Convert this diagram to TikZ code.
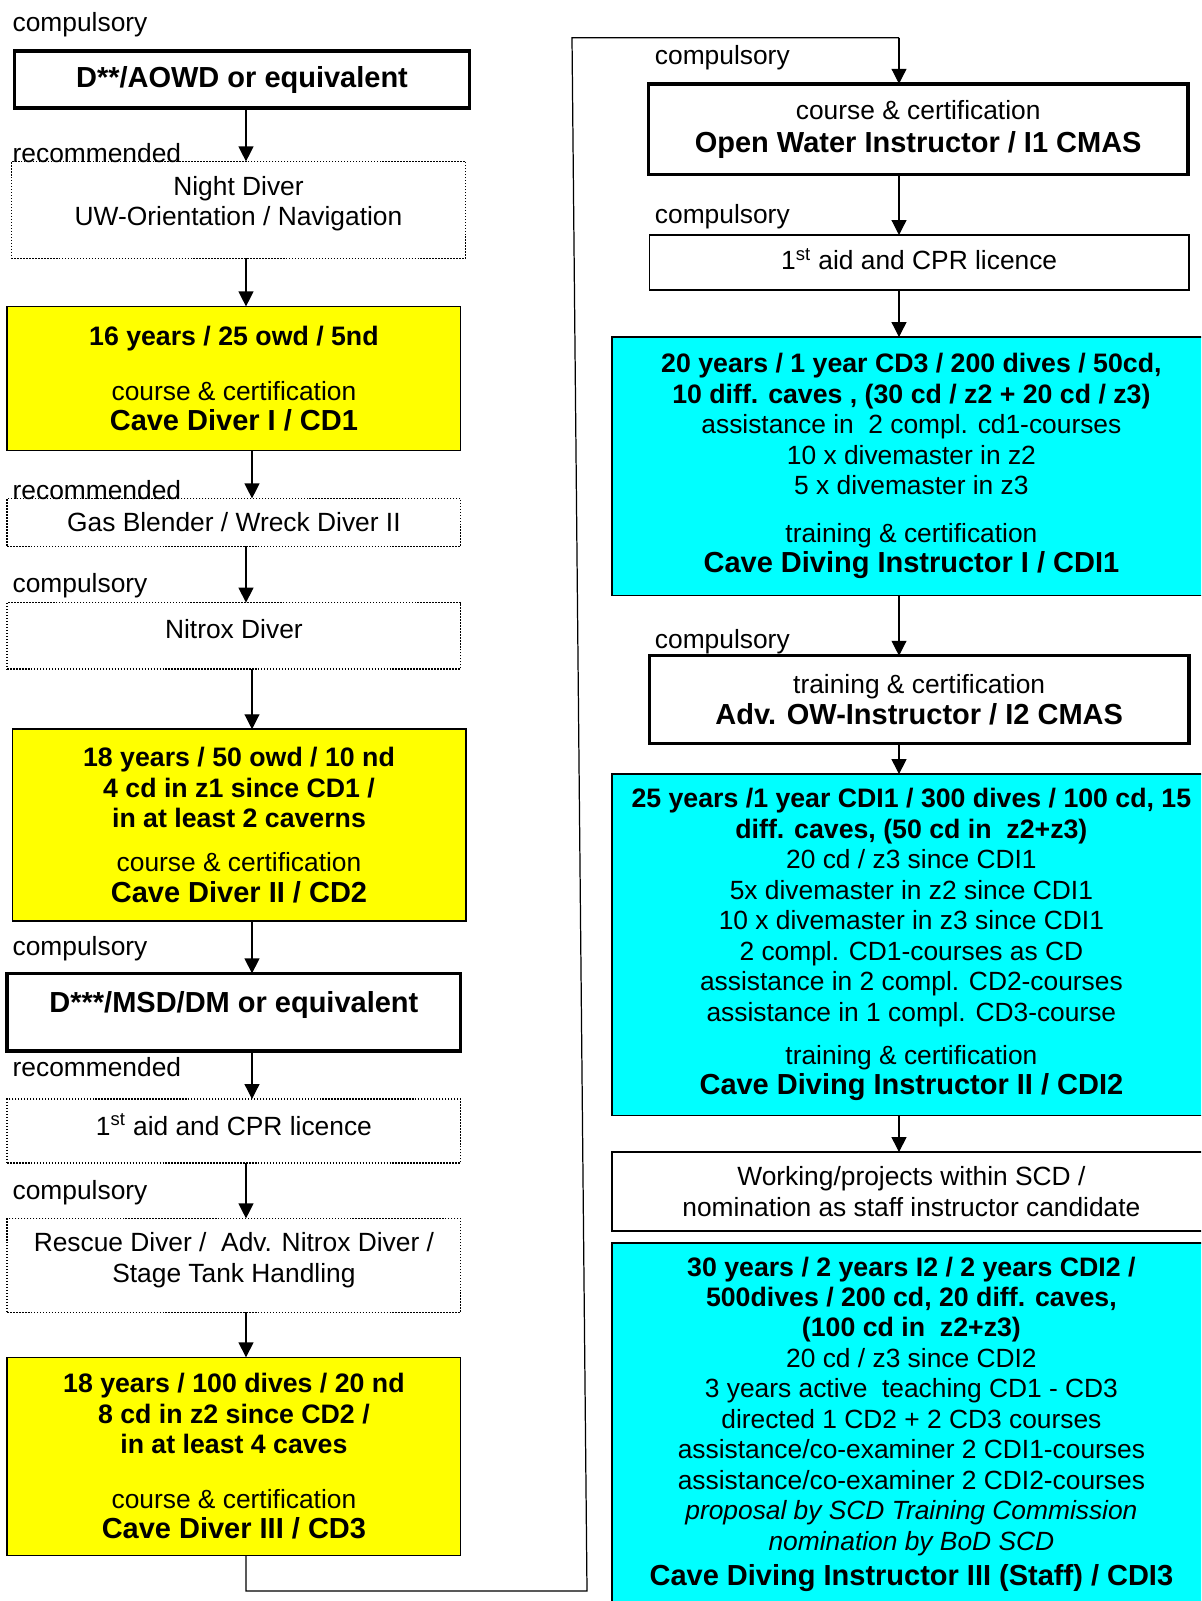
\documentclass[tikz,border=0pt]{standalone}
\usepackage{fontspec}
\setmainfont{Liberation Sans}
\usetikzlibrary{arrows.meta}
\definecolor{cdyellow}{RGB}{255,255,0}
\definecolor{cdcyan}{RGB}{0,255,255}
\newcommand{\hd}[1]{{\fontsize{16.5}{17.35}\selectfont\bfseries #1}}
\newcommand{\reqb}[1]{{\fontsize{15.2}{17.35}\selectfont\bfseries #1}}
\tikzset{
    %Define standard arrow tip
    >={Triangle[length=8.5pt,width=8.5pt]},
    %Define style for boxes
    basebox/.style={
           rectangle,
           inner sep=0pt, outer sep=0pt,
           align=center,
           font=\fontsize{15}{17.35}\selectfont},
    thickrect/.style={
           basebox,
           draw=black, line width=2pt},
    plainrect/.style={
           basebox,
           draw=black, line width=0.9pt},
    dottedrect/.style={
           basebox,
           draw=black, line width=0.8pt,
           dash pattern=on 0.8pt off 0.9pt},
    yellowrect/.style={
           basebox,
           draw=black, line width=0.9pt,
           fill=cdyellow},
    cyanrect/.style={
           basebox,
           draw=black, line width=0.9pt,
           fill=cdcyan},
    lbl/.style={
           anchor=west, inner sep=0pt,
           font=\fontsize{15}{17.35}\selectfont,
           text height=10.8pt, text depth=3pt},
    % Define arrow style
    pil/.style={
           ->,
           line width=0.7pt}
}
\begin{document}
\begin{tikzpicture}[x=0.02cm,y=-0.02cm]
\useasboundingbox (0,0) rectangle (1201,1601);
\fill[white] (0,0) rectangle (1201,1601);
\clip (0,0) rectangle (1201,1601);

% left column
\node[thickrect, minimum width=9.11cm, minimum height=1.146cm] (aowd) at (242,79.6) {\hd{D**/AOWD or equivalent}};
\node[dottedrect, minimum width=9.09cm, minimum height=1.94cm, text depth=10pt] (night) at (238.5,209.9) {Night Diver\\UW-Orientation / Navigation};
\node[yellowrect, minimum width=9.07cm, minimum height=2.88cm] (cdone) at (233.9,378.4) {\reqb{16 years / 25 owd / 5nd}\\[14pt]course \& certification\\\hd{Cave Diver I / CD1}};
\node[dottedrect, minimum width=9.07cm, minimum height=0.96cm] (blender) at (233.9,522.4) {Gas Blender / Wreck Diver II};
\node[dottedrect, minimum width=9.07cm, minimum height=1.328cm, text depth=8pt] (nitrox) at (233.9,635.8) {Nitrox Diver};
\node[yellowrect, minimum width=9.07cm, minimum height=3.84cm] (cdtwo) at (239,825.2) {\reqb{18 years / 50 owd / 10 nd}\\\reqb{4 cd in z1 since CD1 /}\\\reqb{in at least 2 caverns}\\[7.6pt]course \& certification\\\hd{Cave Diver II / CD2}};
\node[thickrect, minimum width=9.07cm, minimum height=1.554cm, text depth=12pt] (msd) at (233.9,1012.2) {\hd{D***/MSD/DM or equivalent}};
\node[dottedrect, minimum width=9.07cm, minimum height=1.28cm, text depth=7.4pt] (aidleft) at (233.9,1131) {1\textsuperscript{st} aid and CPR licence};
\node[dottedrect, minimum width=9.07cm, minimum height=1.88cm, text depth=9pt] (rescue) at (233.9,1265.4) {Rescue Diver /\ \ Adv. Nitrox Diver /\\Stage Tank Handling};
\node[yellowrect, minimum width=9.07cm, minimum height=3.96cm] (cdthree) at (233.9,1456.3) {\reqb{18 years / 100 dives / 20 nd}\\\reqb{8 cd in z2 since CD2 /}\\\reqb{in at least 4 caves}\\[13.8pt]course \& certification\\\hd{Cave Diver III / CD3}};

\node[lbl] (lcomp1) at (12.3,25) {compulsory};
\node[lbl] (lrec1) at (12.3,156) {recommended};
\node[lbl] (lrec2) at (12.3,493) {recommended};
\node[lbl] (lcomp2) at (12.3,586) {compulsory};
\node[lbl] (lcomp3) at (12.3,948.5) {compulsory};
\node[lbl] (lrec3) at (12.3,1070) {recommended};
\node[lbl] (lcomp4) at (12.3,1193) {compulsory};

% right column
\node[thickrect, minimum width=10.786cm, minimum height=1.818cm] (owi) at (918.2,129.2) {course \& certification\\[1.5pt]\hd{Open Water Instructor / I1 CMAS}};
\node[plainrect, minimum width=10.786cm, minimum height=1.1cm, text depth=4pt] (aidright) at (919.2,262.5) {1\textsuperscript{st} aid and CPR licence};
\node[cyanrect, minimum width=11.984cm, minimum height=5.168cm] (cdione) at (911.4,466.2) {\reqb{20 years / 1 year CD3 / 200 dives / 50cd,}\\\reqb{10 diff. caves , (30 cd / z2 + 20 cd / z3)}\\assistance in\ \ 2 compl. cd1-courses\\10 x divemaster in z2\\5 x divemaster in z3\\[9.9pt]training \& certification\\\hd{Cave Diving Instructor I / CDI1}};
\node[thickrect, minimum width=10.786cm, minimum height=1.756cm] (aowi) at (919.2,699.6) {training \& certification\\\hd{Adv. OW-Instructor / I2 CMAS}};
\node[cyanrect, minimum width=11.984cm, minimum height=6.826cm] (cditwo) at (911.4,944.7) {\reqb{25 years /1 year CDI1 / 300 dives / 100 cd, 15}\\\reqb{diff. caves, (50 cd in\ \ z2+z3)}\\20 cd / z3 since CDI1\\5x divemaster in z2 since CDI1\\10 x divemaster in z3 since CDI1\\2 compl. CD1-courses as CD\\assistance in 2 compl. CD2-courses\\assistance in 1 compl. CD3-course\\[7pt]training \& certification\\\hd{Cave Diving Instructor II / CDI2}};
\node[plainrect, minimum width=11.984cm, minimum height=1.574cm] (scd) at (911.4,1191.4) {Working/projects within SCD /\\nomination as staff instructor candidate};
\node[cyanrect, minimum width=11.984cm, minimum height=7.24cm] (cdithree) at (911.4,1424) {\reqb{30 years / 2 years I2 / 2 years CDI2 /}\\\reqb{500dives / 200 cd, 20 diff. caves,}\\\reqb{(100 cd in\ \ z2+z3)}\\20 cd / z3 since CDI2\\3 years active\ \ teaching CD1 - CD3\\directed 1 CD2 + 2 CD3 courses\\assistance/co-examiner 2 CDI1-courses\\assistance/co-examiner 2 CDI2-courses\\\textit{proposal by SCD Training Commission}\\\textit{nomination by BoD SCD}\\[2.5pt]\hd{Cave Diving Instructor III (Staff) / CDI3}};

\node[lbl] (rcomp1) at (654.6,58) {compulsory};
\node[lbl] (rcomp2) at (654.6,216.5) {compulsory};
\node[lbl] (rcomp3) at (654.6,641.3) {compulsory};

% connectors
\coordinate (la) at (246,0);
\coordinate (lb) at (252,0);
\coordinate (ra) at (899,0);
\draw[pil] (aowd.south -| la) -- (night.north -| la);
\draw[pil] (night.south -| la) -- (cdone.north -| la);
\draw[pil] (cdone.south -| lb) -- (blender.north -| lb);
\draw[pil] (blender.south -| la) -- (nitrox.north -| la);
\draw[pil] (nitrox.south -| lb) -- (cdtwo.north -| lb);
\draw[pil] (cdtwo.south -| lb) -- (msd.north -| lb);
\draw[pil] (msd.south -| lb) -- (aidleft.north -| lb);
\draw[pil] (aidleft.south -| la) -- (rescue.north -| la);
\draw[pil] (rescue.south -| la) -- (cdthree.north -| la);

\coordinate (turnA) at (246,1591);
\coordinate (turnB) at (587,1591);
\coordinate (turnC) at (572,37.8);
\coordinate (turnD) at (899,37.8);
\draw[line width=0.7pt] (cdthree.south -| la) -- (turnA) -- (turnB) -- (turnC) -- (turnD);
\draw[pil] (turnD) -- (owi.north -| ra);

\draw[pil] (owi.south -| ra) -- (aidright.north -| ra);
\draw[pil] (aidright.south -| ra) -- (cdione.north -| ra);
\draw[pil] (cdione.south -| ra) -- (aowi.north -| ra);
\draw[pil] (aowi.south -| ra) -- (cditwo.north -| ra);
\draw[pil] (cditwo.south -| ra) -- (scd.north -| ra);
\end{tikzpicture}
\end{document}
